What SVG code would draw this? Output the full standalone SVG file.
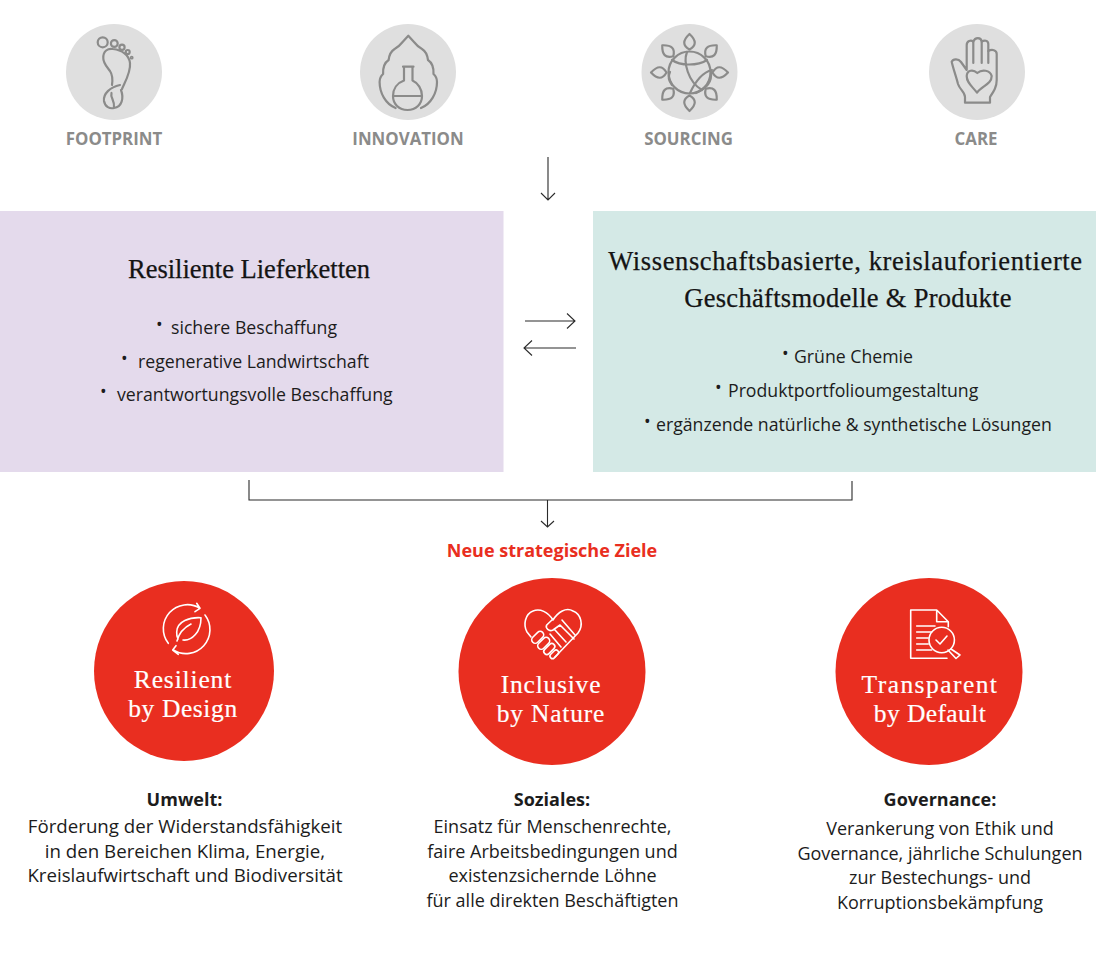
<svg xmlns="http://www.w3.org/2000/svg" width="1096" height="956" viewBox="0 0 1096 956">
<style>
text{font-family:"Open Sans","Noto Sans",Arial,sans-serif}
.lab{font-size:16.85px;font-weight:700;fill:#8b8b8a;text-anchor:middle}
.h{font-family:"Liberation Serif","DejaVu Serif",serif;font-size:26.5px;fill:#141414;stroke:#141414;stroke-width:.25px;text-anchor:middle}
.b{font-size:17.7px;fill:#1c1c1c}
.c{font-size:18px;fill:#1c1c1c;text-anchor:middle}
.u{font-size:18.7px}
.t{font-weight:700}
.w{font-family:"Liberation Serif","DejaVu Serif",serif;font-size:25.5px;fill:#fff;stroke:#fff;stroke-width:.2px;text-anchor:middle}
.gi{fill:none;stroke:#8b8b8a;stroke-width:2.2;stroke-linecap:round;stroke-linejoin:round}
.wi{fill:none;stroke:#fff;stroke-width:1.6;stroke-linecap:round;stroke-linejoin:round}
.ln{fill:none;stroke:#2b2b2b;stroke-width:1.1}
</style>
<defs>
<path id="leaf" d="M0,-23 C-7,-27 -7,-32 0,-38.500 C7,-32 7,-27 0,-23Z"/>
</defs>
<rect width="1096" height="956" fill="#fff"/>

<g id="footprint">
<circle cx="114" cy="72" r="48" fill="#dfdfdf"/>
<g class="gi">
<circle cx="102.7" cy="42.3" r="5"/><circle cx="114.3" cy="43.5" r="3.4"/><circle cx="122" cy="47.3" r="2.6"/><circle cx="127.7" cy="52" r="2"/><circle cx="131.7" cy="57.7" r=".8"/>
<path d="M103.3,58 C103,51 108,48 113,49 C122,50 129,55 130,63 C131,72 125,82 122,89 M120,85 C110,87 103,94 104,101 C105,107 110,109 114,108 C122,107 124,98 121,90 M112,85 C113,78 112,74 110,71 C107,67 103,63 103.3,58 M111.5,93 C110,98 115,100 114,108"/>
</g>
<text class="lab" x="114" y="144.500">FOOTPRINT</text>
</g>

<g id="innovation">
<circle cx="408" cy="72" r="48" fill="#dfdfdf"/>
<g class="gi">
<path d="M395.6,108 C385.6,104 379.6,93 379.6,82 Q379.6,77 383.1,74 Q382.6,64 388.6,60 Q389.6,52 394.6,49 Q398.6,47 402.6,42 L408.3,35.7 L414,42 Q418,47 422,49 Q427,52 428,60 Q434,64 433.500,74 Q437,77 437,82 C437,93 431,104 421,108"/>
<path d="M403,66.700 H413.500 M404,67 V80.500 C397,83 393,89 393,96 C393,104 399,110 407.500,110 C416,110 422,104 422,96 C422,89 418,83 412.500,80.500 V67 M393,96 H422"/>
</g>
<text class="lab" x="408" y="144.500">INNOVATION</text>
</g>

<g id="sourcing">
<circle cx="689.500" cy="72" r="48" fill="#dfdfdf"/>
<g class="gi">
<circle cx="689.500" cy="72.500" r="21"/>
<g transform="translate(689.500 72.500)">
<use href="#leaf"/><use href="#leaf" transform="rotate(45)"/><use href="#leaf" transform="rotate(90)"/><use href="#leaf" transform="rotate(135)"/><use href="#leaf" transform="rotate(180)"/><use href="#leaf" transform="rotate(225)"/><use href="#leaf" transform="rotate(270)"/><use href="#leaf" transform="rotate(315)"/>
</g>
<path d="M672,60 C680,66 698,66 707,60 M687,52 C683,62 688,82 702,90 M690,93 C696,80 704,72 712,70 M696,93 C708,88 712,80 711,72 M672,85 C668,80 668,76 670,72"/>
</g>
<text class="lab" x="688.500" y="144.500">SOURCING</text>
</g>

<g id="care">
<circle cx="977" cy="72" r="48" fill="#dfdfdf"/>
<g class="gi">
<path d="M965,102.700 H990 V97 C994,91 996.700,87 996.700,80 V54 C996.700,50 992,49 988.300,51 V44 C988.300,40 984,40 981.700,41.700 C981,37 975,37 973.300,41.700 C971,39.500 966.700,41 966.700,45 V70 L961,62 C958,58 953,59 951.700,61.700 C953,68 956,76 958,84 C960,90 965,92 965,97 Z"/>
<path d="M973.300,42 V63 M981.700,42 V63 M988.300,51 V63"/>
<path d="M977,92.700 C972,86 966.700,83 966.700,76 C967,70 973,69 977.300,73 C982,69 990,70 991.700,76 C991.700,84 982,86 977,92.700Z"/>
</g>
<text class="lab" x="976" y="144.500">CARE</text>
</g>

<g id="lieferketten">
<rect x="0" y="211" width="503.500" height="261" fill="#e4daec"/>
<text class="h" x="249" y="278">Resiliente Lieferketten</text>
<text class="b" y="333.500"><tspan x="156" dy="-3">•</tspan><tspan x="171" dy="3">sichere Beschaffung</tspan></text>
<text class="b" y="367.500"><tspan x="121" dy="-3">•</tspan><tspan x="138" dy="3">regenerative Landwirtschaft</tspan></text>
<text class="b" y="400.500"><tspan x="100" dy="-3">•</tspan><tspan x="117" dy="3">verantwortungsvolle Beschaffung</tspan></text>
</g>

<g id="geschaeftsmodelle">
<rect x="593" y="211" width="503" height="261" fill="#d4e9e6"/>
<text class="h" x="845.500" y="270" style="letter-spacing:.62px">Wissenschaftsbasierte, kreislauforientierte</text>
<text class="h" x="848" y="307" style="letter-spacing:.3px">Geschäftsmodelle &amp; Produkte</text>
<text class="b" y="362.500"><tspan x="782" dy="-3">•</tspan><tspan x="794" dy="3">Grüne Chemie</tspan></text>
<text class="b" y="396.500"><tspan x="715" dy="-3">•</tspan><tspan x="728" dy="3">Produktportfolioumgestaltung</tspan></text>
<text class="b" y="430.500"><tspan x="644" dy="-3">•</tspan><tspan x="656" dy="3">ergänzende natürliche &amp; synthetische Lösungen</tspan></text>
</g>

<g id="connectors" class="ln">
<path d="M548,157 V200 M541,193 L548,200 L555,193"/>
<path d="M525,321 H575 M567,313.500 L575,321 L567,328.500"/>
<path d="M576,348 H524 M532,340.500 L524,348 L532,355.500"/>
<path d="M249,480 V500 H852 V481"/>
<path d="M547.500,500 V527 M541,521 L547.500,527 L554,521"/>
</g>

<text id="ziele" x="552" y="556.500" font-size="18" font-weight="700" fill="#e92e20" text-anchor="middle">Neue strategische Ziele</text>

<g id="resilient">
<circle cx="184" cy="671" r="90" fill="#e92e20"/>
<g class="wi">
<path d="M168.300,643.300 A24,24 0 0 1 200,608.300 M196.700,603.300 L200,608.300 L195,611.700 M205,615 A24,24 0 0 1 173.300,650 M176,645.700 L172.700,650 L178.300,654.300"/>
<path d="M183,640 C192,641 201,632 201,617.700 C190,617 177,621 176.700,632 C176.500,635 177,637 178,639 M177,641 C179,633 185,627 191,624"/>
</g>
<text class="w" x="183" y="687.500" style="letter-spacing:.85px">Resilient</text>
<text class="w" x="183" y="717" style="letter-spacing:.6px">by Design</text>
</g>

<g id="inclusive">
<circle cx="552" cy="671.500" r="93.500" fill="#e92e20"/>
<g class="wi">
<path d="M553,620 C548,612 540,608 533,611 C525,614 523,625 527,632 L531,637 M553,620 C558,612 566,607 573,611 C581,614 584,625 578,633 L555,657"/>
<path d="M553,619 L546.700,625 C545,628 549,632 553,630 L560,625 L574,639 M562,620 L575,635 M555,630 L566,642 M550,634 L561,647"/>
<g transform="translate(537.700 637.300) rotate(-45)"><rect x="-7" y="-3.500" width="14" height="7" rx="3.500"/></g>
<g transform="translate(543.700 643.300) rotate(-45)"><rect x="-7" y="-3.500" width="14" height="7" rx="3.500"/></g>
<g transform="translate(549.300 649) rotate(-45)"><rect x="-6.500" y="-3" width="13" height="6" rx="3"/></g>
<g transform="translate(554.300 654.300) rotate(-45)"><rect x="-5" y="-2.500" width="10" height="5" rx="2.500"/></g>
</g>
<text class="w" x="551" y="692.500" style="letter-spacing:.78px">Inclusive</text>
<text class="w" x="551" y="722" style="letter-spacing:.8px">by Nature</text>
</g>

<g id="transparent">
<circle cx="929" cy="671.500" r="93.500" fill="#e92e20"/>
<g class="wi">
<path d="M947,658.300 H910.700 V610 H936.700 L948.300,621.700 V626.700 M936.700,610 V621.700 H948.300"/>
<path d="M916.700,626 H935 M916.700,632 H931.700 M916.700,638 H928.300 M916.700,644 H928.300 M916.700,650 H931.700"/>
<circle cx="941.700" cy="640" r="12.700"/>
<path d="M936,640 L940,644 L947,636 M951,649 L960,655 L956,658.500 L948,650"/>
</g>
<text class="w" x="930" y="692.500" style="letter-spacing:1.45px">Transparent</text>
<text class="w" x="930" y="722" style="letter-spacing:.4px">by Default</text>
</g>

<g id="umwelt">
<text class="c t" x="184.500" y="805.500">Umwelt:</text>
<text class="c u" x="185" y="832.500">Förderung der Widerstandsfähigkeit</text>
<text class="c u" x="185" y="857.500">in den Bereichen Klima, Energie,</text>
<text class="c u" x="185" y="881.500">Kreislaufwirtschaft und Biodiversität</text>
</g>
<g id="soziales">
<text class="c t" x="552" y="805.500">Soziales:</text>
<text class="c" x="552.500" y="832.500">Einsatz für Menschenrechte,</text>
<text class="c" x="552.500" y="857.500">faire Arbeitsbedingungen und</text>
<text class="c" x="552.500" y="881.500">existenzsichernde Löhne</text>
<text class="c" x="552.500" y="906.500">für alle direkten Beschäftigten</text>
</g>
<g id="governance">
<text class="c t" x="940" y="805.500">Governance:</text>
<text class="c" x="940" y="834.500">Verankerung von Ethik und</text>
<text class="c" x="940" y="859.500">Governance, jährliche Schulungen</text>
<text class="c" x="940" y="883.500">zur Bestechungs- und</text>
<text class="c" x="940" y="908.500">Korruptionsbekämpfung</text>
</g>
</svg>
